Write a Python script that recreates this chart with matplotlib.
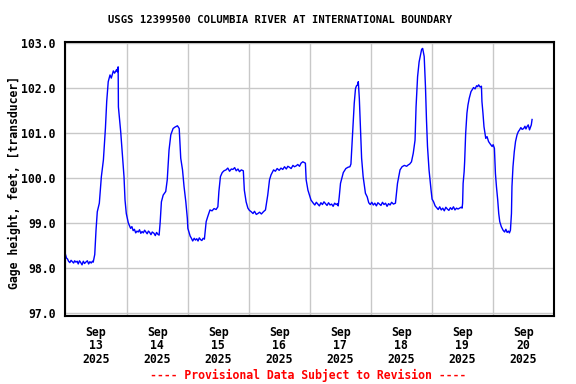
import matplotlib
matplotlib.use('Agg')
import matplotlib.pyplot as plt

# hours since Sep 13 2025 00:00, gage height in feet
hours = [0.0, 0.4, 0.8, 1.2, 1.7, 2.2, 2.7, 3.2, 3.6, 4.1, 4.6, 5.0, 5.5, 6.0,
         6.5, 7.0, 7.5, 8.0, 8.6, 9.1, 9.6, 10.1, 10.6, 10.9,
         11.5, 12.0, 12.5, 13.3, 14.1, 14.9, 15.7, 16.2, 16.8, 17.5, 18.0,
         18.8, 19.3, 20.1, 20.4, 20.7, 20.8, 21.7, 22.5, 23.0, 23.4, 23.9,
         24.7, 25.6, 26.1, 26.6, 27.1, 27.6, 28.1, 28.6, 29.1, 29.6, 30.1,
         30.6, 31.1, 31.6, 32.1, 32.6, 33.1, 33.6, 34.1, 34.8, 35.3, 35.8,
         36.3, 36.8,
         37.2, 37.7, 38.4, 39.4, 40.0, 40.7, 41.4, 42.3, 43.0, 44.0, 44.7,
         45.3, 46.0, 46.6, 47.3, 47.9, 48.1, 49.0, 49.5, 50.0, 50.6, 51.1,
         51.6, 52.1, 52.6, 53.1, 53.6, 54.1, 54.6,
         55.3, 55.9, 56.8, 57.6, 58.4, 59.2, 59.9, 60.3, 60.9, 61.6, 62.3,
         63.1, 63.8, 64.5, 65.2, 65.8, 66.5, 67.1, 67.8, 68.4, 69.1, 69.9,
         70.3, 71.0, 71.7, 72.3, 73.0, 73.7, 74.3, 75.0, 75.6, 76.3, 77.0,
         77.8, 78.6,
         79.5, 80.2, 80.8, 81.8, 82.5, 83.2, 84.0, 84.7, 85.4, 86.1, 86.8,
         87.4, 88.0, 88.7, 89.4, 90.0, 90.7, 91.3, 92.0, 92.6, 93.3, 94.3,
         94.6, 95.3, 95.9, 96.5, 97.4, 98.0, 98.6, 99.2, 99.8, 100.4, 101.0,
         101.6, 102.2, 102.8, 103.4, 104.0, 104.6, 105.2, 105.8, 106.4, 106.9,
         107.2, 107.6, 108.1, 109.2, 110.2, 111.1, 111.8, 112.2, 112.7, 113.1,
         113.5, 114.0, 114.4, 114.8, 115.1, 115.5, 115.9, 116.4, 117.0, 117.9,
         118.6, 119.2, 119.8, 120.4, 121.0, 121.6, 122.2, 122.8, 123.4, 124.0,
         124.6, 125.2, 125.8, 126.4, 127.0, 127.6, 128.2, 128.9,
         129.7, 130.5, 131.5, 132.3, 133.2, 134.1, 134.7, 135.3, 136.0, 136.7,
         137.4, 137.8, 138.4, 139.0, 139.7, 140.0, 140.4, 141.0, 141.5, 141.9,
         142.3, 142.9, 143.7, 144.1, 144.7, 145.3, 145.9, 146.5, 147.1, 147.7,
         148.3, 148.9, 149.5, 150.1, 150.7, 151.3, 151.9, 152.5, 153.1, 153.7,
         154.3, 154.9, 155.5, 155.9,
         156.1, 156.3, 156.7, 156.9, 157.3, 157.8, 158.2, 158.7, 159.4, 160.4,
         161.0, 161.6, 162.0, 162.4, 163.0, 163.5, 163.7, 164.1, 164.5, 165.2,
         165.7, 166.3, 166.9, 167.7, 168.1, 168.6, 169.0, 169.4, 169.9, 170.3,
         170.7, 171.3, 172.0, 172.6, 173.1, 173.6, 174.1, 174.5, 174.9, 175.3,
         175.5, 175.9, 176.4, 176.9, 177.5, 178.0, 178.5, 179.0, 179.5, 180.1,
         180.6, 181.0, 181.4, 181.9, 182.4, 182.8, 183.1, 183.4]
stage = [98.30, 98.22, 98.20, 98.15, 98.12, 98.17, 98.14, 98.11, 98.16, 98.13,
         98.15, 98.09, 98.16, 98.12, 98.07, 98.15, 98.10, 98.13, 98.16, 98.09,
         98.14, 98.11, 98.15, 98.13,
         98.30, 98.84, 99.25, 99.44, 100.03, 100.40, 101.11, 101.70, 102.14,
         102.29, 102.22, 102.38, 102.33, 102.41, 102.36, 102.47, 101.58,
         101.03, 100.40, 100.03, 99.51, 99.21,
         99.00, 98.88, 98.92, 98.83, 98.86, 98.78, 98.82, 98.80, 98.85, 98.77,
         98.81, 98.78, 98.84, 98.80, 98.76, 98.82, 98.79, 98.74, 98.80, 98.77,
         98.72, 98.79, 98.75, 98.73,
         99.00, 99.47, 99.62, 99.70, 99.96, 100.62, 100.96, 101.10, 101.13,
         101.16, 101.10, 100.44, 100.18, 99.81, 99.47, 99.10, 98.88, 98.71,
         98.66, 98.60, 98.66, 98.62, 98.65, 98.60, 98.67, 98.63, 98.61, 98.66,
         98.64,
         99.03, 99.14, 99.29, 99.27, 99.32, 99.30, 99.36, 99.70, 100.03, 100.12,
         100.16, 100.18, 100.22, 100.15, 100.20, 100.19, 100.23, 100.16, 100.20,
         100.14, 100.18, 100.16, 99.73, 99.47, 99.33, 99.28, 99.25, 99.21,
         99.26, 99.19, 99.21, 99.24, 99.20, 99.25, 99.29,
         99.62, 99.96, 100.07, 100.18, 100.15, 100.21, 100.17, 100.22, 100.19,
         100.25, 100.20, 100.26, 100.24, 100.21, 100.28, 100.25, 100.27, 100.30,
         100.26, 100.33, 100.36, 100.33, 99.96, 99.73, 99.62, 99.51, 99.44,
         99.40, 99.46, 99.42, 99.38, 99.45, 99.41, 99.47, 99.43, 99.39, 99.45,
         99.40, 99.42, 99.37, 99.44, 99.41, 99.43, 99.38,
         99.58, 99.88, 100.12, 100.21, 100.24, 100.25, 100.31, 100.84, 101.25,
         101.66, 101.99, 102.05, 102.07, 102.14, 101.77, 101.18, 100.44, 100.03,
         99.66, 99.58, 99.45, 99.41, 99.46, 99.40, 99.44, 99.38, 99.45, 99.42,
         99.39, 99.46, 99.41, 99.44, 99.37, 99.43, 99.40, 99.46, 99.42, 99.44,
         99.88, 100.18, 100.25, 100.28, 100.26, 100.29, 100.31, 100.36, 100.55,
         100.84, 101.58, 102.25, 102.58, 102.77, 102.86, 102.88, 102.70, 102.03,
         101.29, 100.70, 100.18, 99.73, 99.53, 99.47, 99.38, 99.34, 99.30,
         99.36, 99.29, 99.33, 99.27, 99.35, 99.31, 99.28, 99.34, 99.30, 99.36,
         99.29, 99.33, 99.31, 99.33, 99.35, 99.33,
         99.44, 99.88, 100.14, 100.36, 100.99, 101.44, 101.62, 101.77, 101.92,
         102.01, 101.98, 102.05, 102.03, 102.07, 102.02, 102.04, 101.70, 101.44,
         101.14, 100.88, 100.92, 100.81, 100.76, 100.70, 100.74, 100.66, 100.10,
         99.81, 99.51, 99.21, 99.03, 98.92, 98.84, 98.80, 98.86, 98.79, 98.82,
         98.78, 98.84, 99.21, 99.81, 100.25, 100.58, 100.81, 100.96, 101.03,
         101.07, 101.12, 101.08, 101.10, 101.15, 101.09, 101.14, 101.18, 101.07,
         101.13, 101.18, 101.30]

day_ticks = [0, 24, 48, 72, 96, 120, 144, 168, 192]
label_pos = [12, 36, 60, 84, 108, 132, 156, 180]
day_labels = ['Sep\n13\n2025', 'Sep\n14\n2025', 'Sep\n15\n2025', 'Sep\n16\n2025',
              'Sep\n17\n2025', 'Sep\n18\n2025', 'Sep\n19\n2025', 'Sep\n20\n2025']
y_ticks = [97, 98, 99, 100, 101, 102, 103]

mono = 'DejaVu Sans Mono'

fig = plt.figure(figsize=(5.76, 3.84), dpi=100)
ax = fig.add_axes([0.1137, 0.1771, 0.848, 0.7135])

ax.plot(hours, stage, color='#0000ff', linewidth=1.0)

ax.set_xlim(0, 192)
ax.set_ylim(96.933, 103.022)

ax.set_xticks(day_ticks)
ax.set_xticklabels([])
ax.set_xticks(label_pos, minor=True)
ax.set_xticklabels(day_labels, minor=True, fontfamily=mono, fontweight='bold',
                   fontsize=8.3, linespacing=1.05)
ax.tick_params(axis='x', which='both', length=0, pad=7)

ax.set_yticks(y_ticks)
ax.set_yticklabels(['%.1f' % v for v in y_ticks], fontfamily=mono,
                   fontweight='bold', fontsize=8.3)
ax.tick_params(axis='y', length=0, pad=7)

ax.grid(True, which='major', color='#c8c8c8', linewidth=1.0)
ax.set_axisbelow(True)
for s in ax.spines.values():
    s.set_linewidth(1.5)
    s.set_color('black')

fig.text(280 / 576, 1 - 20 / 384,
         'USGS 12399500 COLUMBIA RIVER AT INTERNATIONAL BOUNDARY',
         ha='center', va='center', fontfamily=mono, fontweight='bold', fontsize=7.6)
fig.text(14 / 576, 1 - 182 / 384, 'Gage height, feet, [transducer]',
         rotation=90, ha='center', va='center', fontfamily=mono,
         fontweight='bold', fontsize=8.3)
fig.text(308 / 576, 1 - 375 / 384, '---- Provisional Data Subject to Revision ----',
         ha='center', va='center', color='red', fontfamily=mono,
         fontweight='bold', fontsize=8.3)

fig.savefig('out.png', dpi=100)
